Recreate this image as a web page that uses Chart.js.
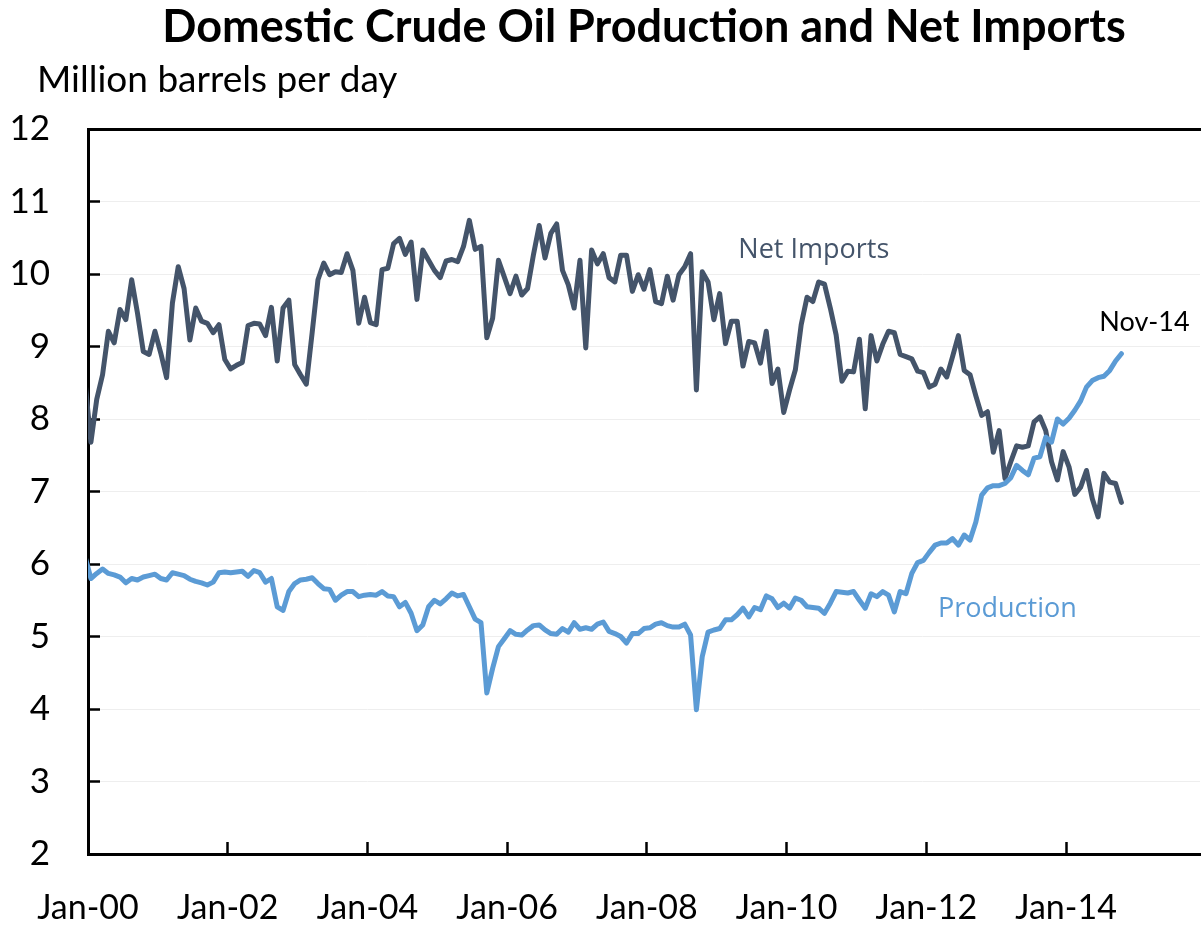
<!DOCTYPE html>
<html><head><meta charset="utf-8">
<script src="https://cdn.jsdelivr.net/npm/chart.js@4.4.1/dist/chart.umd.min.js"></script>
<style>html,body{margin:0;padding:0;background:#fff;}canvas{display:block;}</style>
</head><body>
<canvas id="c" width="1201" height="925"></canvas>
<script>
// Monthly series, first value = Dec-99 (month index -1 relative to Jan-00), last = Oct-14
const firstMonth = -1;
const netImports = [8.5,
 7.68,8.27,8.61,9.21,9.05,9.51,9.37,9.92,9.46,8.93,8.89,9.21,
 8.91,8.57,9.60,10.10,9.80,9.09,9.53,9.35,9.32,9.19,9.30,8.82,
 8.69,8.74,8.78,9.29,9.32,9.31,9.15,9.54,8.80,9.53,9.64,8.75,
 8.61,8.48,9.19,9.92,10.15,9.99,10.03,10.02,10.28,10.05,9.32,9.68,
 9.33,9.30,10.06,10.08,10.42,10.49,10.27,10.44,9.65,10.33,10.19,10.05,
 9.95,10.18,10.20,10.17,10.38,10.74,10.34,10.38,9.12,9.39,10.19,9.96,
 9.73,9.97,9.71,9.80,10.26,10.67,10.22,10.56,10.69,10.05,9.85,9.53,
 10.19,8.98,10.33,10.14,10.28,9.95,9.89,10.26,10.26,9.76,9.99,9.79,
 10.06,9.62,9.59,9.97,9.64,9.99,10.10,10.28,8.40,10.03,9.89,9.37,
 9.73,9.04,9.35,9.35,8.73,9.07,9.05,8.77,9.21,8.49,8.69,8.09,
 8.40,8.68,9.30,9.68,9.62,9.89,9.86,9.53,9.16,8.52,8.66,8.65,
 9.10,8.14,9.15,8.80,9.03,9.21,9.19,8.89,8.86,8.83,8.66,8.64,
 8.44,8.48,8.69,8.58,8.86,9.15,8.67,8.61,8.32,8.05,8.10,7.54,
 7.84,7.18,7.41,7.63,7.61,7.63,7.96,8.03,7.84,7.41,7.16,7.55,
 7.34,6.96,7.06,7.29,6.90,6.65,7.25,7.13,7.11,6.85];
const production = [6.1,
 5.80,5.87,5.93,5.87,5.85,5.82,5.74,5.80,5.78,5.82,5.84,5.86,
 5.80,5.78,5.88,5.86,5.84,5.79,5.76,5.74,5.71,5.75,5.88,5.89,
 5.88,5.89,5.90,5.83,5.91,5.88,5.75,5.80,5.41,5.36,5.62,5.73,
 5.78,5.79,5.81,5.73,5.66,5.65,5.50,5.57,5.62,5.62,5.55,5.57,
 5.58,5.57,5.62,5.56,5.55,5.41,5.47,5.32,5.08,5.16,5.41,5.50,
 5.45,5.52,5.60,5.56,5.58,5.41,5.24,5.19,4.22,4.56,4.86,4.97,
 5.08,5.03,5.02,5.09,5.15,5.16,5.09,5.04,5.03,5.11,5.06,5.19,
 5.10,5.12,5.10,5.17,5.20,5.07,5.04,5.00,4.91,5.04,5.04,5.11,
 5.12,5.17,5.19,5.15,5.13,5.13,5.17,5.02,3.99,4.72,5.06,5.09,
 5.11,5.23,5.23,5.30,5.39,5.27,5.40,5.37,5.56,5.52,5.40,5.46,
 5.39,5.53,5.50,5.41,5.40,5.39,5.32,5.46,5.62,5.61,5.60,5.62,
 5.50,5.39,5.59,5.55,5.62,5.57,5.34,5.62,5.59,5.87,6.02,6.05,
 6.16,6.26,6.29,6.29,6.35,6.26,6.40,6.33,6.58,6.95,7.05,7.08,
 7.08,7.11,7.19,7.36,7.29,7.23,7.46,7.48,7.75,7.68,8.00,7.93,
 8.01,8.12,8.25,8.44,8.53,8.57,8.59,8.67,8.80,8.90];
const xTickMonths = [0,24,48,72,96,120,144,168];
const xTickLabels = ["Jan-00","Jan-02","Jan-04","Jan-06","Jan-08","Jan-10","Jan-12","Jan-14"];
const yTickValues = [2,3,4,5,6,7,8,9,10,11,12];
const chartTitle = "Domestic Crude Oil Production and Net Imports";
const unitLabel = "Million barrels per day";
const seriesNames = ["Production","Net Imports"];
const endLabel = "Nov-14";

const toPoints = arr => arr.map((v,k)=>({x: firstMonth + k + 0.5, y: v}));

const textPlugin = {
  id:'texts',
  afterDraw(chart){
    const ctx = chart.ctx, ca = chart.chartArea, xs = chart.scales.x, ys = chart.scales.y;
    ctx.save();
    ctx.textBaseline = 'middle';
    ctx.fillStyle = '#000';
    ctx.font = "bold 45px Lato";
    ctx.textAlign = 'center';
    ctx.fillText(chartTitle, (ca.left+ca.right)/2, 27);
    ctx.font = "37px Lato";
    ctx.textAlign = 'left';
    ctx.fillText(unitLabel, 37, 80);
    ctx.font = "27px 'Open Sans'";
    ctx.fillStyle = '#44546A';
    ctx.fillText(seriesNames[1], xs.getPixelForValue(111.7), ys.getPixelForValue(10.32));
    ctx.fillStyle = '#5B9BD5';
    ctx.fillText(seriesNames[0], xs.getPixelForValue(146), ys.getPixelForValue(5.37));
    ctx.fillStyle = '#000';
    ctx.font = "27px Lato";
    ctx.fillText(endLabel, xs.getPixelForValue(173.7), ys.getPixelForValue(9.33));
    ctx.restore();
  }
};

new Chart(document.getElementById('c'), {
  type:'line',
  data:{datasets:[
    {label:seriesNames[0], data:toPoints(production), borderColor:'#5B9BD5', borderWidth:5,
     pointRadius:0, tension:0, fill:false, borderJoinStyle:'round', borderCapStyle:'round'},
    {label:seriesNames[1], data:toPoints(netImports), borderColor:'#44546A', borderWidth:5,
     pointRadius:0, tension:0, fill:false, borderJoinStyle:'round', borderCapStyle:'round'}
  ]},
  options:{
    responsive:false, animation:false, events:[],
    layout:{padding:{top:129,right:1,bottom:0,left:0}},
    plugins:{legend:{display:false},title:{display:false},tooltip:{enabled:false}},
    scales:{
      x:{type:'linear', position:'bottom', min:0, max:191,
        afterBuildTicks:s=>{s.ticks = xTickMonths.map(v=>({value:v}));},
        afterFit:s=>{s.height = 69; s.paddingLeft = 0; s.paddingRight = 0;},
        ticks:{autoSkip:false, maxRotation:0, color:'#000', font:{family:'Lato',size:34}, padding:46,
          callback:(v)=>{const k = xTickMonths.indexOf(v); return k>=0 ? xTickLabels[k] : '';}},
        grid:{drawOnChartArea:false, tickLength:-12, tickColor:'#000', tickWidth:2.5},
        border:{display:true, color:'#000', width:3}
      },
      xTop:{type:'linear', position:'top', min:0, max:191,
        ticks:{display:false}, grid:{display:false, drawTicks:false},
        border:{display:true, color:'#000', width:3},
        afterFit:s=>{s.height = 0; s.paddingLeft = 0; s.paddingRight = 0;}
      },
      y:{type:'linear', position:'left', min:2, max:12,
        afterBuildTicks:s=>{s.ticks = yTickValues.map(v=>({value:v}));},
        afterFit:s=>{s.width = 88;},
        ticks:{color:'#000', font:{family:'Lato',size:35}, padding:50},
        grid:{color:'#EEEEEE', lineWidth:1, tickLength:-12, tickColor:'#000', tickWidth:2.5},
        border:{display:true, color:'#000', width:3}
      }
    }
  },
  plugins:[textPlugin]
});
</script>
</body></html>
